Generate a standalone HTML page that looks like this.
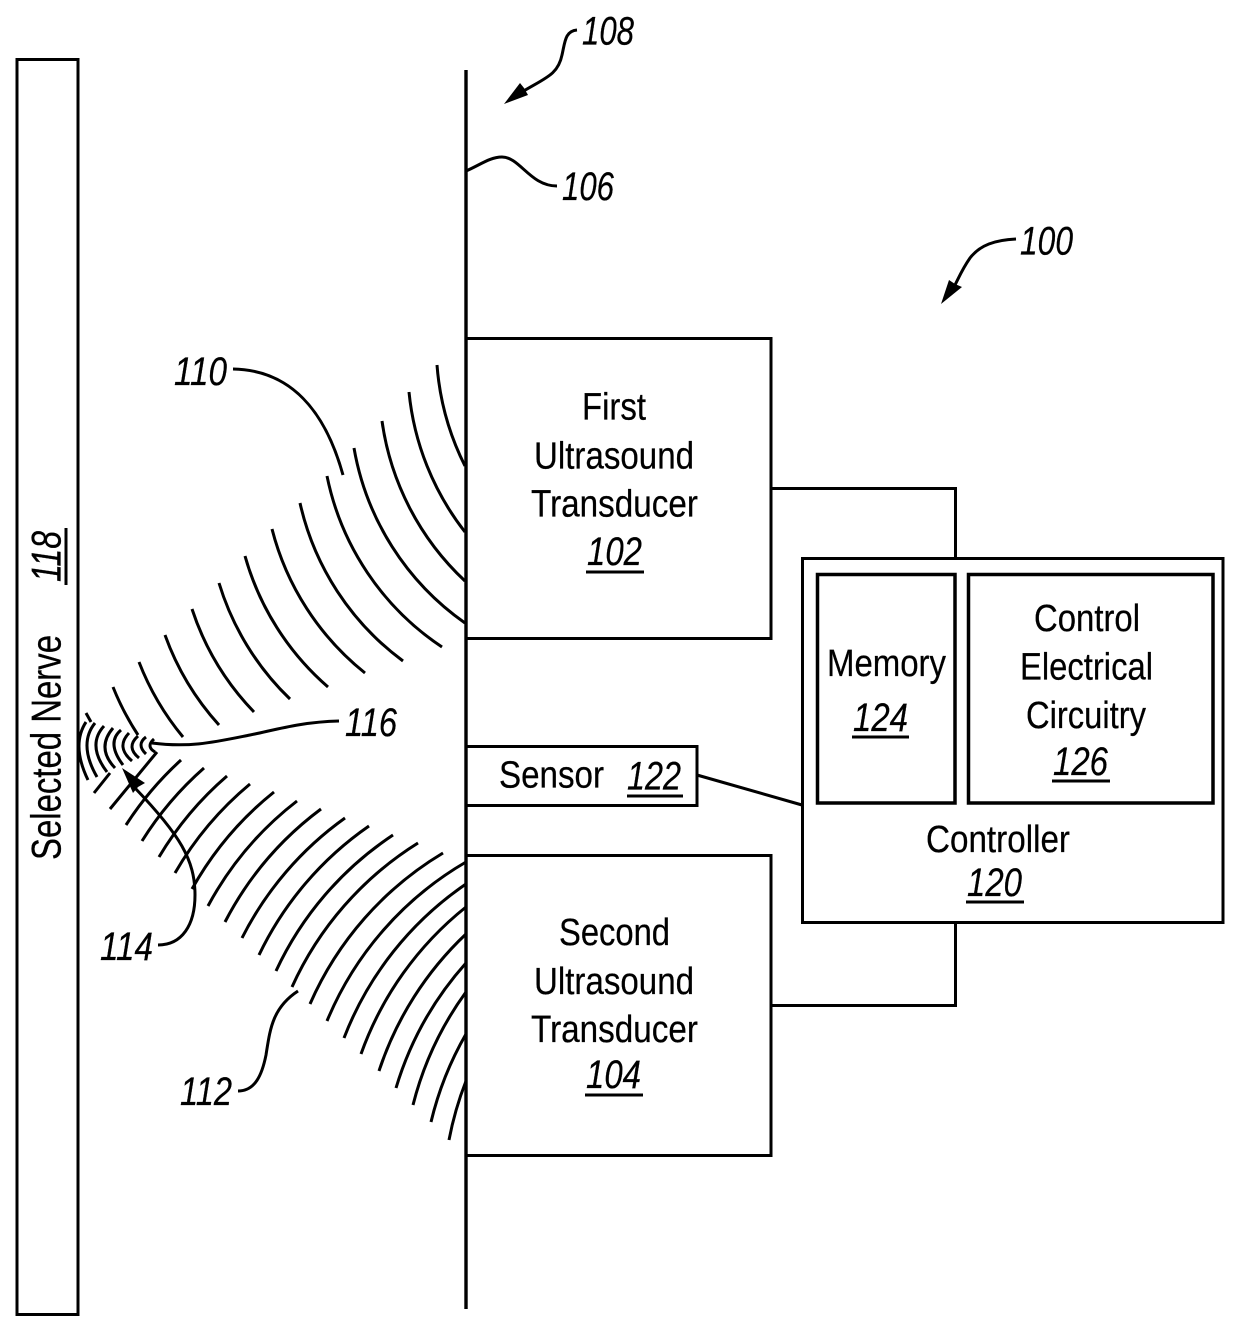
<!DOCTYPE html>
<html>
<head>
<meta charset="utf-8">
<style>
html,body{margin:0;padding:0;background:#fff;}
svg{display:block;}
text{font-family:"Liberation Sans",Arial,sans-serif;font-size:38px;fill:#000;stroke:#000;stroke-width:.25;}
.i{font-style:italic;font-size:40px;}
.b{fill:none;stroke:#000;stroke-width:3;}
.a{fill:none;stroke:#000;stroke-width:3;}
.l{fill:none;stroke:#000;stroke-width:3;}
</style>
</head>
<body>
<svg width="1240" height="1332" viewBox="0 0 1240 1332" xmlns="http://www.w3.org/2000/svg">
<rect width="1240" height="1332" fill="#fff"/>

<!-- upper arcs -->
<g class="a">
<path d="M437,365 A270,270 0 0 0 465,466"/>
<path d="M409,392 A270,270 0 0 0 465,532"/>
<path d="M382,421 A270,270 0 0 0 465,581"/>
<path d="M354,448 A270,270 0 0 0 465,623"/>
<path d="M327,476 A270,270 0 0 0 442,647"/>
<path d="M300,503 A270,270 0 0 0 403,661"/>
<path d="M272,529 A270,270 0 0 0 365,673"/>
<path d="M245,556 A270,270 0 0 0 328,687"/>
<path d="M219,583 A270,270 0 0 0 290,699"/>
<path d="M192,609 A270,270 0 0 0 254,712"/>
<path d="M165,635 A270,270 0 0 0 219,725"/>
<path d="M139,662 A270,270 0 0 0 183,737"/>
<path d="M113,687 A270,270 0 0 0 138,735"/>
</g>

<!-- lower arcs -->
<g class="a">
<path d="M94,793 L110,773"/>
<path d="M110,809 L157,752"/>
<path d="M126,825 A330,330 0 0 1 181,760"/>
<path d="M142,841 A330,330 0 0 1 204,768"/>
<path d="M159,857 A330,330 0 0 1 227,776"/>
<path d="M175,873 A330,330 0 0 1 250,784"/>
<path d="M192,889 A330,330 0 0 1 274,792"/>
<path d="M208,906 A330,330 0 0 1 297,801"/>
<path d="M225,922 A330,330 0 0 1 321,809"/>
<path d="M242,938 A330,330 0 0 1 345,818"/>
<path d="M259,955 A330,330 0 0 1 369,826"/>
<path d="M276,971 A330,330 0 0 1 393,835"/>
<path d="M292,987 A330,330 0 0 1 418,843"/>
<path d="M310,1004 A330,330 0 0 1 443,853"/>
<path d="M327,1021 A330,330 0 0 1 466,862"/>
<path d="M344,1038 A330,330 0 0 1 466,884"/>
<path d="M361,1054 A330,330 0 0 1 466,907"/>
<path d="M379,1071 A330,330 0 0 1 466,934"/>
<path d="M396,1088 A330,330 0 0 1 466,963"/>
<path d="M413,1105 A330,330 0 0 1 466,992"/>
<path d="M431,1122 A330,330 0 0 1 466,1034"/>
<path d="M449,1140 A330,330 0 0 1 466,1081"/>
</g>

<!-- focus arcs -->
<g class="a">
<path d="M86,713 L91,722"/>
<path d="M86,722 Q71,745 88,780"/>
<path d="M95,723 Q78,744 97,777"/>
<path d="M104,726 Q86.500,745 107,772"/>
<path d="M113,728 Q96,748 115,768"/>
<path d="M121,730 Q106,742.500 123,765"/>
<path d="M129,733 Q115.500,747 132,761"/>
<path d="M138,736 Q125.500,747 139,758"/>
<path d="M146,737 Q136,744.500 146,754"/>
<path d="M154,739 Q145.500,746.500 155,752"/>
</g>

<!-- boxes -->
<rect class="b" x="17" y="59.500" width="61" height="1255"/>
<line class="b" style="stroke-width:3.400" x1="466" y1="70" x2="466" y2="1309"/>
<rect class="b" x="466" y="338.500" width="305" height="300"/>
<rect class="b" x="466" y="855.500" width="305" height="300"/>
<rect class="b" x="466" y="746.500" width="231" height="59"/>
<rect class="b" x="802.500" y="558.500" width="420.500" height="364"/>
<rect class="b" style="stroke-width:3.500" x="817.500" y="574.500" width="137.500" height="228.500"/>
<rect class="b" style="stroke-width:3.500" x="968.500" y="574.500" width="244.500" height="228.500"/>
<path class="b" d="M771,488.500 H955.500 V558"/>
<path class="b" d="M955.500,922 V1005.500 H771"/>
<line class="b" x1="697" y1="775" x2="802" y2="805"/>

<!-- leaders -->
<g class="l">
<path d="M577,30 C565,31 565,42 562,55 C558,75 545,78 522,92"/>
<path d="M466,171 C480,165 490,157 502,157 C520,157 530,186 557,186"/>
<path d="M1016,239 C995,240 980,245 970,258 C963,268 960,275 955,285"/>
<path d="M233,369 C290,370 325,410 343,475"/>
<path d="M339,721 C300,722 275,730 250,735 C215,742 190,748 152,743"/>
<path d="M158,945 C182,945 195,925 195,895 C195,860 180,835 135,788"/>
<path d="M238,1091 C255,1091 262,1075 266,1055 C270,1030 272,1008 298,991"/>
</g>
<polygon points="504,104 520,83 524,88 528,95" fill="#000"/>
<polygon points="941,304 949,280 955,284 962,287" fill="#000"/>
<polygon points="122,768 133,793 138,787 145,783" fill="#000"/>

<!-- text -->
<text x="582" y="419.500" textLength="64" lengthAdjust="spacingAndGlyphs">First</text>
<text x="534" y="468.500" textLength="160" lengthAdjust="spacingAndGlyphs">Ultrasound</text>
<text x="531" y="516.500" textLength="167" lengthAdjust="spacingAndGlyphs">Transducer</text>
<text class="i" x="587" y="565" textLength="55" lengthAdjust="spacingAndGlyphs">102</text>
<line class="l" x1="586" y1="572" x2="644" y2="572"/>

<text x="559" y="945" textLength="111" lengthAdjust="spacingAndGlyphs">Second</text>
<text x="534" y="994" textLength="160" lengthAdjust="spacingAndGlyphs">Ultrasound</text>
<text x="531" y="1042" textLength="167" lengthAdjust="spacingAndGlyphs">Transducer</text>
<text class="i" x="586" y="1088" textLength="55" lengthAdjust="spacingAndGlyphs">104</text>
<line class="l" x1="585" y1="1095" x2="643" y2="1095"/>

<text x="499" y="787.500" textLength="105" lengthAdjust="spacingAndGlyphs">Sensor</text>
<text class="i" x="627" y="789.500" textLength="54" lengthAdjust="spacingAndGlyphs">122</text>
<line class="l" x1="627" y1="796" x2="683" y2="796"/>

<text x="827" y="676" textLength="119" lengthAdjust="spacingAndGlyphs">Memory</text>
<text class="i" x="853" y="731" textLength="55" lengthAdjust="spacingAndGlyphs">124</text>
<line class="l" x1="852" y1="737" x2="909" y2="737"/>

<text x="1034" y="631" textLength="106" lengthAdjust="spacingAndGlyphs">Control</text>
<text x="1020" y="679.500" textLength="133" lengthAdjust="spacingAndGlyphs">Electrical</text>
<text x="1026" y="728" textLength="120" lengthAdjust="spacingAndGlyphs">Circuitry</text>
<text class="i" x="1053" y="775" textLength="55" lengthAdjust="spacingAndGlyphs">126</text>
<line class="l" x1="1052" y1="781" x2="1110" y2="781"/>

<text x="926" y="852" textLength="144" lengthAdjust="spacingAndGlyphs">Controller</text>
<text class="i" x="967" y="896" textLength="55" lengthAdjust="spacingAndGlyphs">120</text>
<line class="l" x1="966" y1="902" x2="1024" y2="902"/>

<g transform="translate(60.500,860) rotate(-90)">
<text x="0" y="0" style="font-size:42px" textLength="225" lengthAdjust="spacingAndGlyphs">Selected Nerve</text>
<text class="i" x="278" y="0" style="font-size:42px" textLength="51" lengthAdjust="spacingAndGlyphs">118</text>
</g>
<line class="l" x1="66" y1="528" x2="66" y2="585"/>

<text class="i" x="582" y="44.500" textLength="52" lengthAdjust="spacingAndGlyphs">108</text>
<text class="i" x="562" y="200" textLength="52" lengthAdjust="spacingAndGlyphs">106</text>
<text class="i" x="1020" y="254.500" textLength="53" lengthAdjust="spacingAndGlyphs">100</text>
<text class="i" x="174" y="385" textLength="53" lengthAdjust="spacingAndGlyphs">110</text>
<text class="i" x="345" y="736" textLength="52" lengthAdjust="spacingAndGlyphs">116</text>
<text class="i" x="100" y="960" textLength="53" lengthAdjust="spacingAndGlyphs">114</text>
<text class="i" x="180" y="1105" textLength="52" lengthAdjust="spacingAndGlyphs">112</text>
</svg>
</body>
</html>
